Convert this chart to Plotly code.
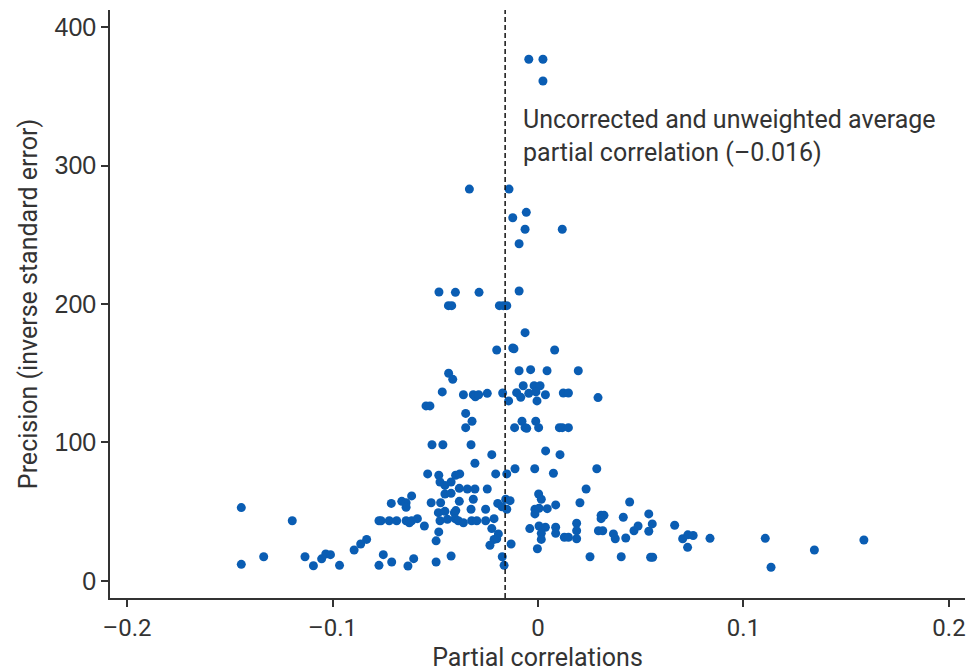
import plotly.graph_objects as go

# Partial correlations (x) and precision (y)
partial_corr = [
    -0.1444, -0.1196, -0.1444, -0.1335, -0.1134, -0.1093, -0.1053, -0.1033, -0.1010, -0.0966,
    -0.0516, -0.0463, -0.0326, -0.0225, -0.0307, -0.0537, -0.0483, -0.0477, -0.0453, -0.0423,
    -0.0401, -0.0381, -0.0206, -0.0152, -0.0112, -0.0615, -0.0663, -0.0642, -0.0714, -0.0642,
    -0.0520, -0.0474, -0.0453, -0.0423, -0.0383, -0.0344, -0.0307, -0.0247, -0.0315, -0.0383,
    -0.0196, -0.0157, -0.0136, -0.0152, -0.0175, -0.0255, -0.0326, -0.0485, -0.0453, -0.0407,
    -0.0400, -0.0774, -0.0764, -0.0724, -0.0688, -0.0642, -0.0626, -0.0615, -0.0587, -0.0553,
    -0.0477, -0.0441, -0.0404, -0.0388, -0.0363, -0.0323, -0.0298, -0.0255, -0.0214, -0.0225,
    -0.0193, -0.0201, -0.0214, -0.0234, -0.0131, -0.0040, -0.0483, -0.0496, -0.0834, -0.0863,
    -0.0895, -0.0753, -0.0774, -0.0712, -0.0605, -0.0633, -0.0496, -0.0423, -0.0174, -0.0165,
    0.0037, 0.0107, -0.0016, 0.0075, 0.0286, 0.0234, 0.0003, 0.0016, 0.0204, 0.0446,
    -0.0015, 0.0005, -0.0015, 0.0045, 0.0086, 0.0307, 0.0321, 0.0307, 0.0415, 0.0539,
    0.0005, 0.0036, 0.0016, 0.0016, 0.0086, 0.0086, 0.0128, 0.0148, 0.0188, 0.0188,
    0.0188, 0.0294, 0.0315, 0.0367, 0.0376, 0.0427, 0.0467, 0.0487, 0.0539, 0.0556,
    0.0665, 0.0704, 0.0729, 0.0755, 0.0728, -0.0003, 0.0253, 0.0405, 0.0548, 0.0558,
    0.0837, 0.1106, 0.1134, 0.1345, 0.1586,
    -0.0482, -0.0402, -0.0287, -0.0092, -0.0436, -0.0420, -0.0188, -0.0169, -0.0152, -0.0063,
    -0.0201, -0.0123, -0.0117, 0.0081, -0.0092, -0.0036, 0.0044, 0.0196, -0.0435, -0.0415,
    -0.0466, -0.0363, -0.0315, -0.0305, -0.0289, -0.0247, -0.0172, -0.0143, -0.0104, -0.0084,
    -0.0072, -0.0045, -0.0019, 0.0010, -0.0010, 0.0036, -0.0005, 0.0123, 0.0148, 0.0292,
    -0.0545, -0.0526, -0.0352, -0.0321, -0.0352, -0.0078, -0.0114, -0.0063, -0.0055, -0.0011,
    0.0003, 0.0104, 0.0118, 0.0148,
    -0.0045, 0.0024, 0.0024, -0.0334, -0.0141, -0.0057, -0.0123, -0.0063, 0.0118, -0.0092,
]
precision = [
    53, 43.5, 12, 17.5, 17.5, 11, 16, 19.5, 19, 11.3,
    98.4, 98.4, 98.4, 91.2, 85, 77.3, 76.3, 71.5, 69, 71.5,
    76.3, 77.3, 77.3, 77.3, 81, 61.4, 57.5, 56.5, 56, 53.2,
    56.5, 56.5, 62.8, 63.3, 66.9, 66.4, 66.4, 66.4, 59, 57.5,
    56, 59, 58, 51.8, 53.6, 51.8, 51.8, 49.3, 50.3, 49.3,
    50.8, 43.5, 43.5, 43.5, 43.5, 43.5, 42, 43.5, 45, 39.7,
    43.5, 44.5, 45, 43.5, 42, 43.5, 43.5, 43.5, 45, 37.8,
    34, 30.5, 30, 25.8, 26.7, 37.8, 35.4, 29, 30, 26.7,
    22.4, 19, 11.3, 13.7, 16.1, 10.8, 13.7, 18, 17.5, 11.3,
    93.9, 91.2, 81, 77.8, 81, 66.4, 62.8, 59, 56.5, 57,
    51.8, 52.5, 48.4, 52.2, 54.9, 47.4, 47.4, 45, 46, 48.4,
    39.7, 38.8, 34.4, 30, 38.8, 34.4, 31.6, 31.6, 41.7, 36.3,
    30.5, 36.3, 36.3, 34, 30.5, 31, 36.3, 39.7, 35.9, 41.2,
    40.2, 30.5, 33.3, 32.8, 24.3, 23.3, 17.5, 17.5, 17.1, 17.1,
    30.8, 30.8, 9.9, 22.4, 29.6,
    208.7, 208.4, 208.4, 209.4, 198.8, 198.8, 198.8, 198.8, 198.8, 179.3,
    166.8, 168.2, 167.7, 166.8, 151.8, 152.6, 151.8, 151.8, 150, 145.6,
    136.5, 134.5, 134.5, 133, 134.5, 135.5, 135.7, 130, 136, 132.6,
    141, 135.5, 141, 141, 136.5, 134.5, 130, 135.7, 135.7, 132.4,
    126.4, 126.4, 121, 115.3, 110.7, 115.3, 110.7, 110.7, 110.2, 115.3,
    110.7, 110.7, 110.7, 110.7,
    376.7, 376.7, 361, 283, 283, 266.2, 262.3, 254, 254, 243.5,
]

average_pc = -0.016
annotation_text = "Uncorrected and unweighted average<br>partial correlation (–0.016)"
x_ticks = [-0.2, -0.1, 0, 0.1, 0.2]
x_tick_labels = ["–0.2", "–0.1", "0", "0.1", "0.2"]
y_ticks = [0, 100, 200, 300, 400]

ink = "#333333"
dot = "#0a5db3"

fig = go.Figure()
fig.add_trace(go.Scatter(
    x=partial_corr, y=precision, mode="markers",
    marker=dict(color=dot, size=9, line=dict(width=0)),
    showlegend=False, hoverinfo="x+y",
))

fig.add_shape(type="line", xref="x", yref="paper",
              x0=average_pc, x1=average_pc, y0=0, y1=1,
              line=dict(color="#111111", width=1.5, dash="5px,3px"))

fig.add_annotation(x=average_pc + 0.0075, y=345, xref="x", yref="y",
                   text=annotation_text, showarrow=False,
                   xanchor="left", yanchor="top", align="left",
                   font=dict(family="Roboto, Liberation Sans Narrow, sans-serif",
                             size=25, color=ink))

fig.update_layout(
    width=968, height=672,
    margin=dict(l=110, r=3, t=10, b=74),
    paper_bgcolor="white", plot_bgcolor="white",
    xaxis=dict(
        range=[-0.2083, 0.2078], tickvals=x_ticks, ticktext=x_tick_labels,
        showgrid=False, zeroline=False, showline=True, linecolor=ink, linewidth=1.5,
        ticks="outside", ticklen=7, tickwidth=1.5, tickcolor=ink,
        tickfont=dict(family="Roboto, sans-serif", size=24, color=ink),
        title=dict(text="Partial correlations", standoff=8,
                   font=dict(family="Roboto, sans-serif", size=25, color=ink)),
    ),
    yaxis=dict(
        range=[-12.3, 412.3], tickvals=y_ticks,
        showgrid=False, zeroline=False, showline=True, linecolor=ink, linewidth=1.5,
        ticks="outside", ticklen=7, tickwidth=1.5, tickcolor=ink,
        tickfont=dict(family="Liberation Sans, Arial, sans-serif", size=25, color=ink),
        title=dict(text="Precision (inverse standard error)", standoff=10,
                   font=dict(family="Roboto, sans-serif", size=25, color=ink)),
    ),
)

fig.write_html("out.html", config={"displayModeBar": False},
               post_script="document.body.style.margin='0px';document.body.style.padding='0px';")
